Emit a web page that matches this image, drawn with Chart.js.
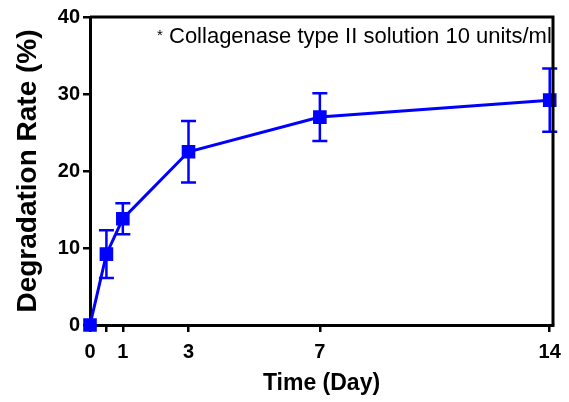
<!DOCTYPE html>
<html>
<head>
<meta charset="utf-8">
<script src="https://cdn.jsdelivr.net/npm/chart.js@4.4.1/dist/chart.umd.min.js"></script>
<style>
  html, body { margin: 0; padding: 0; background: #fff; }
  #wrap { width: 569px; height: 402px; }
</style>
</head>
<body>
<div id="wrap"><canvas id="chart" width="569" height="402"></canvas></div>
<script>
    // data
    const days = [0, 0.5, 1, 3, 7, 14];
    const rate = [0, 9.2, 13.8, 22.5, 27.0, 29.2];
    const errs = [0, 3.1, 2.0, 4.0, 3.1, 4.1];
    const xTicks = [0, 0.5, 1, 3, 7, 14];
    const xLabels = ['0', '', '1', '3', '7', '14'];
    const seriesName = 'Collagenase type II solution 10 units/ml';

    const blue = '#0000ff';
    const fontFam = '"Liberation Sans", Arial, sans-serif';

    // error bars + box frame + legend text
    const extras = {
        id: 'extras',
        afterDatasetsDraw(chart) {
            const ctx = chart.ctx;
            const x = chart.scales.x, y = chart.scales.y;
            ctx.save();
            ctx.strokeStyle = blue;
            ctx.lineWidth = 2.5;
            days.forEach((d, i) => {
                if (!errs[i]) return;
                const px = x.getPixelForValue(d);
                const top = y.getPixelForValue(rate[i] + errs[i]);
                const bot = y.getPixelForValue(rate[i] - errs[i]);
                ctx.beginPath();
                ctx.moveTo(px, top); ctx.lineTo(px, bot);
                ctx.moveTo(px - 7.5, top); ctx.lineTo(px + 7.5, top);
                ctx.moveTo(px - 7.5, bot); ctx.lineTo(px + 7.5, bot);
                ctx.stroke();
            });
            const a = chart.chartArea;
            ctx.strokeStyle = '#000';
            ctx.lineWidth = 3;
            ctx.beginPath();
            ctx.moveTo(a.left, a.top); ctx.lineTo(a.right, a.top); ctx.lineTo(a.right, a.bottom);
            ctx.stroke();
            ctx.fillStyle = '#000';
            ctx.textBaseline = 'alphabetic';
            ctx.font = '15px ' + fontFam;
            ctx.fillText('*', 157, 40);
            ctx.font = '22px ' + fontFam;
            ctx.fillText(seriesName, 169, 43);
            ctx.restore();
        }
    };

    const ctx = document.getElementById('chart').getContext('2d');
    new Chart(ctx, {
        type: 'line',
        data: {
            datasets: [{
                label: seriesName,
                data: days.map((d, i) => ({ x: d, y: rate[i] })),
                borderColor: blue,
                backgroundColor: blue,
                borderWidth: 3,
                pointStyle: 'rect',
                pointRadius: 7.5,
                pointHoverRadius: 7.5,
                clip: false
            }]
        },
        options: {
            responsive: false,
            animation: false,
            layout: { padding: { left: 0, top: 17, right: 16, bottom: 5 } },
            plugins: { legend: { display: false }, tooltip: { enabled: false } },
            scales: {
                x: {
                    type: 'linear', min: 0, max: 14.1,
                    afterBuildTicks: s => { s.ticks = xTicks.map(v => ({ value: v })); },
                    afterFit: s => { s.height = 72; },
                    grid: { drawOnChartArea: false, drawTicks: true, tickLength: 7, color: '#000', lineWidth: 2.5 },
                    border: { display: true, color: '#000', width: 3 },
                    ticks: {
                        color: '#000', padding: 8, maxRotation: 0, autoSkip: false,
                        font: { family: fontFam, size: 20, weight: 'bold' },
                        callback: (v, i) => xLabels[i]
                    },
                    title: {
                        display: true, text: 'Time (Day)', color: '#000',
                        font: { family: fontFam, size: 23, weight: 'bold' },
                        padding: { top: 0, bottom: 0 }
                    }
                },
                y: {
                    min: 0, max: 40,
                    afterFit: s => { s.width = 90; },
                    grid: { drawOnChartArea: false, drawTicks: true, tickLength: 7, color: '#000', lineWidth: 2.5 },
                    border: { display: true, color: '#000', width: 3 },
                    ticks: {
                        stepSize: 10, color: '#000', padding: 3,
                        font: { family: fontFam, size: 20, weight: 'bold' }
                    },
                    title: {
                        display: true, text: 'Degradation Rate (%)', color: '#000',
                        font: { family: fontFam, size: 28, weight: 'bold' },
                        padding: { top: 11, bottom: 0 }
                    }
                }
            }
        },
        plugins: [extras]
    });
</script>
</body>
</html>
